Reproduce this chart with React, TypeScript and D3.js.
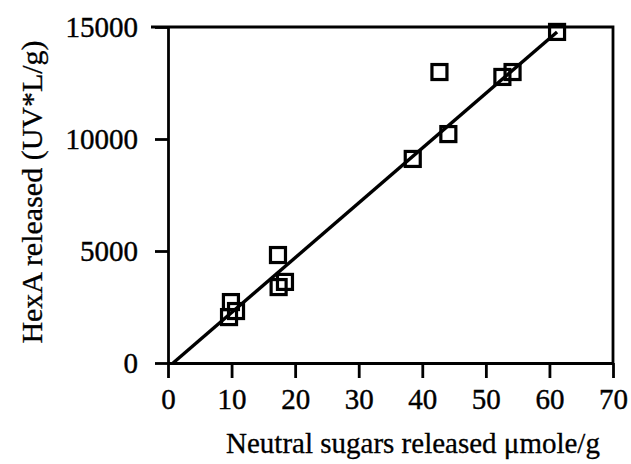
import React, { useEffect, useRef } from 'react';
import * as d3 from 'd3';

// scatter points
const sugars = [9.6, 9.9, 10.7, 17.3, 17.4, 18.4, 38.5, 42.7, 44.1, 52.6, 54.2, 61.2];
const hexa = [2050, 2720, 2320, 4820, 3390, 3620, 9110, 12990, 10220, 12770, 12990, 14780];

// fitted line end points
const fitX = [0.8, 61.2];
const fitY = [0, 14780];

const xTicks = [0, 10, 20, 30, 40, 50, 60, 70];
const yTicks = [0, 5000, 10000, 15000];

const App = () => {
  const ref = useRef<SVGSVGElement>(null);

  useEffect(() => {
    const width = 631,
      height = 464,
      margin = { top: 27, right: 18, bottom: 101, left: 168 };

    const svg = d3.select(ref.current);
    svg.selectAll('*').remove();

    const x = d3.scaleLinear().domain([0, 70]).range([margin.left, width - margin.right]);
    const y = d3.scaleLinear().domain([0, 15000]).range([height - margin.bottom, margin.top]);

    const font = "'Liberation Serif', 'Times New Roman', serif";

    // left axis
    const gy = svg.append('g')
      .attr('transform', `translate(${x(0)},0)`)
      .call(d3.axisLeft(y).tickValues(yTicks).tickSize(13).tickSizeOuter(0).tickPadding(17).tickFormat(d3.format('d')));
    gy.selectAll('path, line').attr('stroke', '#000').attr('stroke-width', 2.8);
    gy.selectAll('text')
      .attr('font-family', font).attr('font-size', 29).attr('fill', '#000')
      .attr('stroke', '#000').attr('stroke-width', 0.4);

    // bottom axis
    const gx = svg.append('g')
      .attr('transform', `translate(0,${y(0)})`)
      .call(d3.axisBottom(x).tickValues(xTicks).tickSize(15).tickSizeOuter(0).tickPadding(10));
    gx.selectAll('path, line').attr('stroke', '#000').attr('stroke-width', 2.8);
    gx.selectAll('text')
      .attr('font-family', font).attr('font-size', 29).attr('fill', '#000')
      .attr('stroke', '#000').attr('stroke-width', 0.4);

    // frame: top and right
    svg.append('path')
      .attr('d', `M${x(0) - 17},${y(15000)}H${x(70)}V${y(0)}`)
      .attr('fill', 'none')
      .attr('stroke', '#000')
      .attr('stroke-width', 2.8);

    // fit line
    const line = d3.line<number>()
      .x((d, i) => x(fitX[i]))
      .y(d => y(d));
    svg.append('path')
      .datum(fitY)
      .attr('d', line)
      .attr('fill', 'none')
      .attr('stroke', '#000')
      .attr('stroke-width', 3.4);

    // hollow squares
    const s = 15;
    svg.append('g')
      .selectAll('rect')
      .data(sugars)
      .enter().append('rect')
      .attr('x', d => x(d) - s / 2)
      .attr('y', (d, i) => y(hexa[i]) - s / 2)
      .attr('width', s)
      .attr('height', s)
      .attr('fill', 'none')
      .attr('stroke', '#000')
      .attr('stroke-width', 3.2);

    // axis titles
    svg.append('text')
      .attr('x', 413)
      .attr('y', 453)
      .attr('text-anchor', 'middle')
      .attr('font-family', font)
      .attr('font-size', 29)
      .attr('stroke', '#000').attr('stroke-width', 0.3)
      .text('Neutral sugars released \u03bcmole/g');

    svg.append('text')
      .attr('transform', `translate(42,192) rotate(-90)`)
      .attr('text-anchor', 'middle')
      .attr('font-family', font)
      .attr('font-size', 30)
      .attr('stroke', '#000').attr('stroke-width', 0.3)
      .text('HexA released (UV*L/g)');
  }, []);

  return (
    <svg
      ref={ref}
      width={631}
      height={464}
      style={{ position: 'absolute', left: 0, top: 0, background: '#fff' }}
    />
  );
};

export default App;
